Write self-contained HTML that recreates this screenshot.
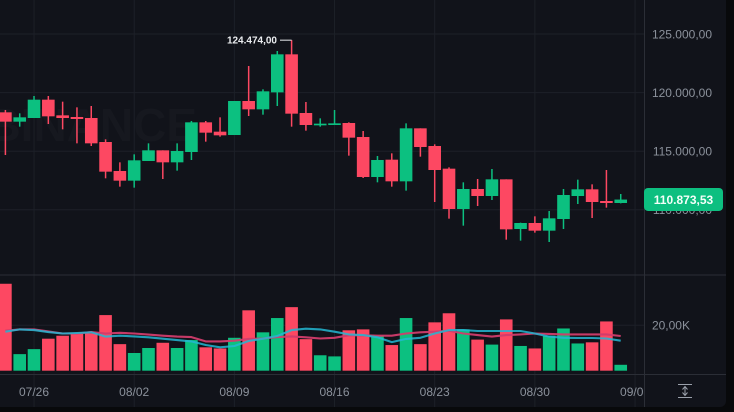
<!DOCTYPE html>
<html lang="en">
<head>
<meta charset="utf-8">
<title>BTC candlestick chart</title>
<style>
  html, body { margin: 0; padding: 0; background: #08090b; }
  body { width: 734px; height: 412px; overflow: hidden; }
  svg { display: block; font-family: "Liberation Sans", sans-serif; }
</style>
</head>
<body>
<svg id="chart" width="734" height="412" viewBox="0 0 734 412" xmlns="http://www.w3.org/2000/svg">
  <defs>
    <clipPath id="plot-clip"><rect x="0" y="0" width="644" height="407"></rect></clipPath>
    <clipPath id="price-clip"><rect x="0" y="0" width="644" height="275"></rect></clipPath>
  </defs>
  <rect x="0" y="0" width="734" height="412" fill="#08090b"></rect>
  <path d="M0 0H726V401a6 6 0 0 1-6 6H0Z" fill="#11131a"></path>
  <text x="197" y="141" text-anchor="end" font-size="46" font-weight="700" fill="#16181f">BINANCE</text>
  <g id="grid"></g>
  <g id="vol" clip-path="url(#plot-clip)"></g>
  <g id="ma" clip-path="url(#plot-clip)"></g>
  <g id="candles" clip-path="url(#price-clip)"></g>
  <line x1="0" x2="726" y1="275" y2="275" stroke="#2b2e36" stroke-width="1"></line>
  <line x1="0" x2="726" y1="374.5" y2="374.5" stroke="#2b2e36" stroke-width="1"></line>
  <line x1="644.5" x2="644.5" y1="0" y2="407" stroke="#2b2e36" stroke-width="1"></line>
  <g id="xaxis" clip-path="url(#plot-clip)"></g>
  <g id="yaxis"></g>
  <g>
    <text id="high-label" x="277" y="43" text-anchor="end" font-size="10" font-weight="700" fill="#eaecef"></text>
    <path id="high-leader" fill="none" stroke="#eaecef" stroke-width="1"></path>
  </g>
  <g>
    <rect id="tag-bg" x="644" width="79" height="23" rx="4" fill="#0dbf80"></rect>
    <text id="tag-text" x="683.5" text-anchor="middle" font-size="12" font-weight="700" fill="#f4fff9"></text>
  </g>
  <g stroke="#9aa0aa" stroke-width="1" fill="none">
    <line x1="678" x2="692" y1="384.5" y2="384.5"></line>
    <line x1="678" x2="692" y1="397.5" y2="397.5"></line>
    <line x1="685" x2="685" y1="387" y2="395"></line>
    <path d="M682.5 389.5L685 386.5L687.5 389.5"></path>
    <path d="M682.5 392.5L685 395.5L687.5 392.5"></path>
  </g>
</svg>
<script>
const opens  = [118316,117520,117833,119397,118060,117918,117833,115785,113311,112486,114164,115074,114050,114932,117463,116667,116382,119283,118572,120023,123265,118259,117207,117235,117406,116211,112799,114277,112429,116951,115443,113510,110068,111775,111177,112599,108362,108874,108220,109215,111177,111746,110751,110580];
const highs  = [118515,118231,119710,119710,119226,118743,118857,116013,114050,114733,115671,115074,115671,117577,117577,117890,119283,122269,120279,123549,124474,119198,117804,118515,117463,116723,114590,114818,117377,116951,115586,113623,112344,112628,113481,112599,108902,109443,109898,111775,112571,112173,113396,111348];
const lows   = [114676,117093,117833,117321,116866,115671,115444,112685,111974,111889,114164,112628,113339,114249,115814,116240,116382,118003,118117,118857,117093,116752,117093,117235,114619,112713,112344,111974,111633,114533,110666,109244,108646,110324,110836,107452,107367,108049,107253,108362,110495,109300,110182,110551];
const closes = [117520,117890,119397,117975,117833,117748,115671,113254,112486,114221,115074,114050,115017,117463,116581,116354,119283,118572,120108,123265,118203,117236,117349,117377,116155,112799,114249,112429,116951,115358,113396,110068,111775,111177,112599,108333,108874,108220,109272,111263,111746,110666,110580,110873.53];
const volumes = [38.3,7.3,9.5,14.1,15.4,16.2,16.4,24.5,11.7,7.8,10.0,12.3,10.0,13.5,10.3,9.8,14.5,26.6,16.9,23.2,28.0,13.9,6.8,6.3,17.8,18.2,15.3,11.3,23.2,11.7,21.3,25.3,18.2,13.7,11.5,22.6,10.9,9.8,15.4,18.6,12.0,12.5,21.7,2.6];
const maPink = [17.6,18.2,18.2,17.3,16.4,16.4,17.0,16.4,16.7,16.4,15.9,15.4,15.0,14.8,12.9,12.9,13.2,14.0,14.2,14.8,15.1,14.7,14.2,14.5,15.6,15.6,15.4,15.4,16.4,16.9,17.2,17.6,16.4,15.7,15.0,15.7,16.0,16.4,16.2,16.0,16.0,16.0,16.0,15.3];
const maBlue = [17.2,18.2,17.9,17.0,16.4,16.6,16.9,15.0,15.4,15.1,14.7,14.1,13.5,12.9,11.3,10.3,10.9,13.1,14.1,15.3,17.9,18.5,18.2,17.2,16.0,15.7,14.7,12.6,14.0,14.5,16.4,17.9,17.9,17.5,17.5,17.5,17.5,16.4,15.0,14.5,14.4,14.4,14.2,13.2];
const priceTicks = [125000,120000,115000,110000];
const priceTickLabels = ["125.000,00","120.000,00","115.000,00","110.000,00"];
const volumeTicks = [20];
const volumeTickLabels = ["20,00K"];
const dateTickIndex = [2,9,16,23,30,37,44];
const dateTickLabels = ["07/26","08/02","08/09","08/16","08/23","08/30","09/06"];
const highLabel = "124.474,00";
const lastLabel = "110.873,53";

const NS = "http://www.w3.org/2000/svg";
const GREEN = "#0cc080";
const RED = "#fd4862";
function xAt(i) { return 5.4 + i * 14.31; }
function yPrice(v) { return 34 + (125000 - v) * 0.01172; }
function yVol(k) { return 370.7 - k * 2.27; }
function el(tag, parent, attrs) {
  const n = document.createElementNS(NS, tag);
  for (const k in attrs) n.setAttribute(k, attrs[k]);
  parent.appendChild(n);
  return n;
}
const grid = document.getElementById("grid");
const vol = document.getElementById("vol");
const ma = document.getElementById("ma");
const candles = document.getElementById("candles");
const xaxis = document.getElementById("xaxis");
const yaxis = document.getElementById("yaxis");

priceTicks.forEach(function (t, i) {
  const y = yPrice(t);
  const g = el("line", grid, { x1: 0, x2: 644, y1: y, y2: y, stroke: "#1d2028", "stroke-width": 1 });
  
  
  const lab = el("text", yaxis, { x: 712, y: y + 4.3, "text-anchor": "end", "font-size": 12, fill: "#8b919b" });
  lab.textContent = priceTickLabels[i];
  
  
});
volumeTicks.forEach(function (t, i) {
  const y = yVol(t);
  const g = el("line", grid, { x1: 0, x2: 644, y1: y, y2: y, stroke: "#1d2028", "stroke-width": 1 });
  
  
  const lab = el("text", yaxis, { x: 690, y: y + 4.3, "text-anchor": "end", "font-size": 12, fill: "#8b919b" });
  lab.textContent = volumeTickLabels[i];
  
  
});
dateTickIndex.forEach(function (idx, i) {
  const x = xAt(idx);
  const g = el("line", grid, { x1: x, x2: x, y1: 0, y2: 407, stroke: "#1d2028", "stroke-width": 1 });
  
  
  const lab = el("text", xaxis, { x: x, y: 396, "text-anchor": "middle", "font-size": 12, fill: "#8b919b" });
  lab.textContent = dateTickLabels[i];
  
  
});

volumes.forEach(function (k, i) {
  const up = closes[i] >= opens[i];
  const top = yVol(k);
  const b = el("rect", vol, { x: xAt(i) - 6.3, y: top, width: 12.6, height: yVol(0) - top, fill: up ? GREEN : RED });
  
  
});

function maPoints(arr) {
  return arr.map(function (k, i) { return xAt(i).toFixed(1) + "," + yVol(k).toFixed(1); }).join(" ");
}
const pinkLine = el("polyline", ma, { points: maPoints(maPink), fill: "none", stroke: "#d13c6c", "stroke-width": 2.1, "stroke-linejoin": "round", opacity: 0.95 });


const blueLine = el("polyline", ma, { points: maPoints(maBlue), fill: "none", stroke: "#23b7d2", "stroke-width": 2.1, "stroke-linejoin": "round", opacity: 0.85 });



opens.forEach(function (o, i) {
  const c = closes[i];
  const up = c >= o;
  const col = up ? GREEN : RED;
  const x = xAt(i);
  const w = el("line", candles, { x1: x, x2: x, y1: yPrice(highs[i]), y2: yPrice(lows[i]), stroke: col, "stroke-width": 1.5 });
  
  
  const top = yPrice(Math.max(o, c));
  const h = Math.max(1.5, yPrice(Math.min(o, c)) - top);
  const b = el("rect", candles, { x: x - 6.3, y: top, width: 12.6, height: h, fill: col });
  
  
});

let hi = 0;
highs.forEach(function (v, i) { if (v > highs[hi]) hi = i; });
const hy = yPrice(highs[hi]);
document.getElementById("high-label").textContent = highLabel;
document.getElementById("high-label").setAttribute("y", hy + 3.2);
document.getElementById("high-leader").setAttribute("d", "M280 " + hy + "H" + xAt(hi));

const lastY = yPrice(closes[closes.length - 1]);
document.getElementById("tag-bg").setAttribute("y", lastY - 11.6);
const tagText = document.getElementById("tag-text");
tagText.textContent = lastLabel;
tagText.setAttribute("y", lastY + 4.4);
</script>
</body>
</html>
